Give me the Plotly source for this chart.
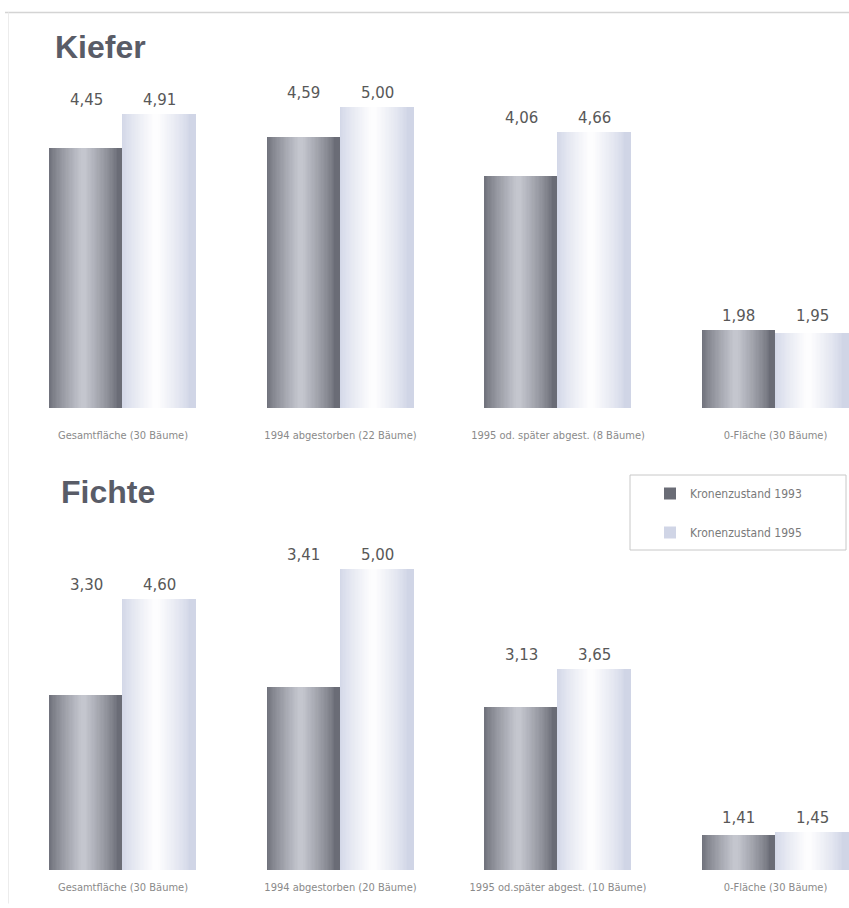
import plotly.graph_objects as go

# Crown condition index per site group, two survey years
categories_kiefer = ["Gesamtfläche (30 Bäume)", "1994 abgestorben (22 Bäume)",
                     "1995 od. später abgest. (8 Bäume)", "0-Fläche (30 Bäume)"]
categories_fichte = ["Gesamtfläche (30 Bäume)", "1994 abgestorben (20 Bäume)",
                     "1995 od.später abgest. (10 Bäume)", "0-Fläche (30 Bäume)"]
kiefer_1993 = [4.45, 4.59, 4.06, 1.98]
kiefer_1995 = [4.91, 5.00, 4.66, 1.95]
fichte_1993 = [3.30, 3.41, 3.13, 1.41]
fichte_1995 = [4.60, 5.00, 3.65, 1.45]
series_names = ["Kronenzustand 1993", "Kronenzustand 1995"]

W, H = 849, 908
BAR_W = 0.337          # bar width in category units
N_LAYERS = 26          # shading layers used to fake a cylinder gradient
Y_RANGE = [0.93, 6.0]

# edge / highlight colours for the two series
SHADES = [((106, 108, 118), (196, 198, 206)),
          ((208, 213, 230), (253, 253, 254))]
HIGHLIGHT = [0.46, 0.45]


def mix(a, b, t):
    return "rgb(%d,%d,%d)" % tuple(round(a[i] + (b[i] - a[i]) * t) for i in range(3))


def fmt(v):
    return f"{v:.2f}".replace(".", ",")


fig = go.Figure()

panels = [("x", "y", kiefer_1993, kiefer_1995, categories_kiefer),
          ("x2", "y2", fichte_1993, fichte_1995, categories_fichte)]

annotations = []
for p, (xa, ya, v93, v95, cats) in enumerate(panels):
    xs = list(range(len(cats)))
    for s, vals in enumerate([v93, v95]):
        left = -BAR_W if s == 0 else 0.0
        edge, centre = SHADES[s]
        for k in range(N_LAYERS):
            if k == 0:
                frac, lo = 1.0, 0.0
            else:
                frac = 0.92 * (1 - (k - 1) / N_LAYERS)
                lo = HIGHLIGHT[s] - frac / 2
            t = (k / (N_LAYERS - 1)) ** 0.8
            fig.add_trace(go.Bar(
                x=xs, y=vals,
                width=[BAR_W * frac] * len(xs),
                offset=[left + BAR_W * lo] * len(xs),
                marker=dict(color=mix(edge, centre, t), line=dict(width=0)),
                name=series_names[s],
                legendgroup=series_names[s],
                showlegend=(p == 0 and k == 0),
                hoverinfo="skip" if k else None,
                xaxis=xa, yaxis=ya,
            ))
    # value labels sit above the taller bar of each pair
    for i in xs:
        top = max(v93[i], v95[i])
        for s, v in enumerate([v93[i], v95[i]]):
            cx = i - BAR_W / 2 if s == 0 else i + BAR_W / 2
            annotations.append(dict(
                x=cx, y=top, xref=xa, yref=ya, text=fmt(v), showarrow=False,
                yanchor="bottom", yshift=3,
                font=dict(family="DejaVu Sans", size=15, color="#585858")))

# panel titles
for txt, x0, yc in [("Kiefer", 53, 47), ("Fichte", 59, 492)]:
    annotations.append(dict(
        x=x0 / W, y=1 - yc / H, xref="paper", yref="paper", text=f"<b>{txt}</b>",
        showarrow=False, xanchor="left", yanchor="middle",
        font=dict(family="Liberation Sans, Arial, sans-serif", size=32, color="#595c67")))

x_domain = [14.25 / W, 1.0]
x_range = [-0.5, -0.5 + (W - 14.25) / 217.5]
label_font = dict(family="DejaVu Sans Condensed, sans-serif", size=11, color="#8a8a8a")

xaxis_common = dict(domain=x_domain, range=x_range, showgrid=False, zeroline=False,
                    showline=False, ticks="", tickfont=label_font,
                    tickmode="array", tickvals=[0, 1, 2, 3])
yaxis_common = dict(range=Y_RANGE, visible=False, showgrid=False, zeroline=False)

fig.update_layout(
    width=W, height=H,
    margin=dict(l=0, r=0, t=0, b=0),
    paper_bgcolor="white", plot_bgcolor="rgba(0,0,0,0)",
    barmode="overlay", bargap=0,
    xaxis=dict(**xaxis_common, anchor="y", ticktext=categories_kiefer, ticklabelstandoff=19),
    yaxis=dict(**yaxis_common, domain=[1 - 408 / H, 1 - 408 / H + 375 / H], anchor="x"),
    xaxis2=dict(**xaxis_common, anchor="y2", ticktext=categories_fichte, ticklabelstandoff=9),
    yaxis2=dict(**yaxis_common, domain=[1 - 870 / H, 1 - 870 / H + 375 / H], anchor="x2"),
    annotations=annotations,
    showlegend=True,
    legend=dict(x=650 / W, y=1 - 479 / H, xanchor="left", yanchor="top",
                bgcolor="rgba(0,0,0,0)", borderwidth=0, tracegroupgap=20,
                traceorder="grouped",
                font=dict(family="DejaVu Sans Condensed, sans-serif",
                          size=12, color="#7a7a7a")),
    shapes=[
        # legend frame
        dict(type="rect", xref="paper", yref="paper", x0=630 / W, x1=846 / W,
             y0=1 - 550 / H, y1=1 - 475 / H, line=dict(color="#c8c8c8", width=1),
             fillcolor="rgba(0,0,0,0)", layer="below"),
        # thin page frame lines
        dict(type="line", xref="paper", yref="paper", x0=5 / W, x1=1, y0=1 - 12.5 / H,
             y1=1 - 12.5 / H, line=dict(color="#d4d4d4", width=1.5)),
        dict(type="line", xref="paper", yref="paper", x0=8.5 / W, x1=8.5 / W, y0=0.005,
             y1=1 - 12.5 / H, line=dict(color="#ececec", width=1)),
    ],
)

fig.write_html("out.html")
